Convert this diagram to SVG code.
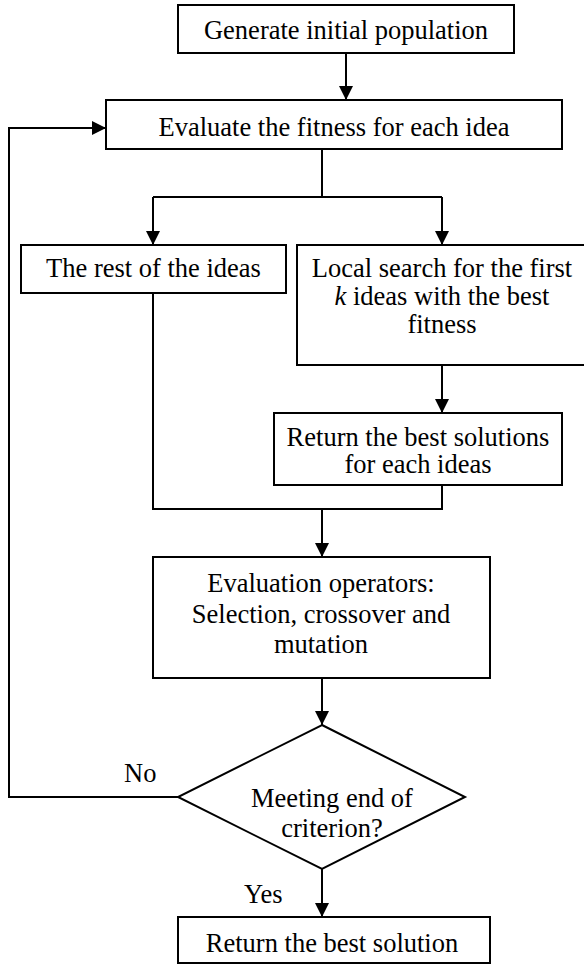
<svg xmlns="http://www.w3.org/2000/svg" width="584" height="965" viewBox="0 0 584 965">
<style>
.box{fill:#fff;stroke:#000;stroke-width:2}
.ln{fill:none;stroke:#000;stroke-width:2}
.t{font-family:"Liberation Serif","Times New Roman",serif;font-size:26.5px;fill:#000;text-anchor:middle}
.lbl{font-family:"Liberation Serif","Times New Roman",serif;font-size:26.5px;fill:#000;text-anchor:start}
</style>
<defs>
<marker id="ah" markerWidth="14" markerHeight="14" refX="14" refY="7" orient="auto" markerUnits="userSpaceOnUse">
<path d="M0,0 L14,7 L0,14 z" fill="#000"/>
</marker>
</defs>
<rect width="584" height="965" fill="#fff"/>
<g id="connectors">
<path class="ln" d="M346,53 V100" marker-end="url(#ah)"/>
<path class="ln" d="M322,149 V197"/>
<path class="ln" d="M153,197 H442"/>
<path class="ln" d="M153,197 V245" marker-end="url(#ah)"/>
<path class="ln" d="M442,197 V245" marker-end="url(#ah)"/>
<path class="ln" d="M442,365 V413" marker-end="url(#ah)"/>
<path class="ln" d="M153,293 V509 H442 V485"/>
<path class="ln" d="M322,509 V557" marker-end="url(#ah)"/>
<path class="ln" d="M322,678 V725" marker-end="url(#ah)"/>
<path class="ln" d="M322,869 V917" marker-end="url(#ah)"/>
<path class="ln" d="M178,797 H9 V128 H106" marker-end="url(#ah)"/>
<text class="lbl" x="124" y="782">No</text>
<text class="lbl" x="244" y="903">Yes</text>
</g>
<g id="n1">
<rect class="box" x="178" y="5" width="336" height="48"/>
<text class="t" x="346" y="39">Generate initial population</text>
</g>
<g id="n2">
<rect class="box" x="106" y="100" width="456" height="49"/>
<text class="t" x="334" y="136">Evaluate the fitness for each idea</text>
</g>
<g id="n3">
<rect class="box" x="21" y="245" width="265" height="48"/>
<text class="t" x="153.5" y="277">The rest of the ideas</text>
</g>
<g id="n4">
<rect class="box" x="297" y="245" width="290" height="120"/>
<text class="t" x="442" y="277">Local search for the first</text>
<text class="t" x="442" y="305"><tspan font-style="italic">k</tspan> ideas with the best</text>
<text class="t" x="442" y="333">fitness</text>
</g>
<g id="n5">
<rect class="box" x="274" y="413" width="288" height="72"/>
<text class="t" x="418" y="446">Return the best solutions</text>
<text class="t" x="418" y="473">for each ideas</text>
</g>
<g id="n6">
<rect class="box" x="153" y="557" width="337" height="121"/>
<text class="t" x="321" y="592">Evaluation operators:</text>
<text class="t" x="321" y="623">Selection, crossover and</text>
<text class="t" x="321" y="653">mutation</text>
</g>
<g id="n7">
<path class="box" d="M322,725 L465,797 L322,869 L178,797 Z"/>
<text class="t" x="332" y="807">Meeting end of</text>
<text class="t" x="332" y="837">criterion?</text>
</g>
<g id="n8">
<rect class="box" x="178" y="917" width="312" height="46"/>
<text class="t" x="332" y="952">Return the best solution</text>
</g>
</svg>
